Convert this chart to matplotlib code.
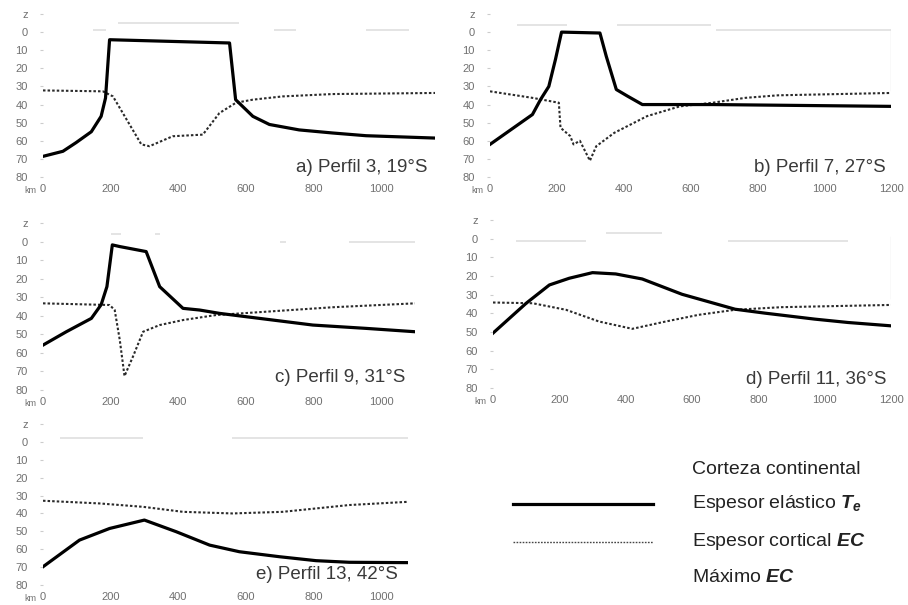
#!/usr/bin/env python3
"""
Perfiles de espesor elastico (Te) y espesor cortical (EC), Andes 19-42 S
Five small panels + a hand-drawn legend in the lower right corner.
"""
import matplotlib
matplotlib.use("Agg")
import matplotlib.pyplot as plt
from matplotlib.lines import Line2D

plt.rcParams["font.family"] = ["Liberation Sans", "DejaVu Sans"]
plt.rcParams["mathtext.fontset"] = "custom"
plt.rcParams["mathtext.bf"] = "Liberation Sans:bold:italic"
plt.rcParams["mathtext.rm"] = "Liberation Sans"

# ---- data (km along profile, depth in km) ----
a_te_x = [0, 59, 98, 143, 172, 185, 197, 552, 570, 621, 670, 758, 857, 956, 1160]
a_te_y = [68.6, 65.8, 61, 55, 46.5, 36.4, 4.2, 6, 37.3, 46.5, 51, 54, 55.7, 57.2, 58.5]
a_ec_x = [0, 177, 207, 291, 315, 384, 473, 522, 571, 621, 709, 857, 1160]
a_ec_y = [32.2, 32.7, 35.5, 62, 63, 57.5, 56.6, 44.7, 39, 37.3, 35.5, 34.2, 33.6]

b_te_x = [0, 127, 152, 176, 196, 214, 329, 348, 378, 412, 456, 666, 1200]
b_te_y = [62, 45.5, 37, 30, 15, 0, 0.5, 13.4, 31.7, 35.4, 40, 40, 41]
b_ec_x = [0, 127, 206, 211, 240, 250, 269, 299, 318, 372, 470, 568, 666, 764, 862, 1200]
b_ec_y = [32.7, 36.3, 39, 52.8, 57.4, 62, 60, 71, 63, 55.6, 46.4, 41, 39, 36.3, 34.9, 33.6]

c_te_x = [0, 69, 143, 172, 189, 205, 227, 305, 345, 414, 463, 522, 640, 798, 956, 1100]
c_te_y = [55.8, 48.6, 41.4, 34, 24.3, 1.8, 2.7, 5.4, 24.3, 36, 36.9, 38.7, 41.4, 45, 46.8, 48.6]
c_ec_x = [0, 197, 212, 227, 241, 266, 296, 345, 414, 512, 660, 857, 1100]
c_ec_y = [33.3, 34.2, 36.9, 53, 72.5, 62, 48.6, 45, 42.3, 39.6, 37.8, 35.4, 33.3]

d_te_x = [0, 100, 170, 230, 300, 370, 450, 570, 730, 820, 970, 1070, 1200]
d_te_y = [50.6, 34.6, 24.8, 21.2, 18.2, 18.9, 21.6, 29.8, 37.8, 39.9, 43.1, 44.9, 46.7]
d_ec_x = [0, 120, 220, 320, 420, 520, 620, 730, 870, 1200]
d_ec_y = [34.2, 34.6, 38.1, 44.4, 48.3, 44.4, 40.8, 38.1, 36.7, 35.5]

e_te_x = [0, 108, 197, 300, 394, 493, 581, 700, 808, 906, 1080]
e_te_y = [69.8, 54.9, 48.4, 43.7, 50.2, 57.7, 61.4, 64.2, 66.4, 67.3, 67.5]
e_ec_x = [0, 167, 296, 414, 561, 709, 808, 906, 1080]
e_ec_y = [32.9, 34.4, 36.3, 39.1, 40, 39.1, 37.2, 35.3, 33.5]

# faint "corteza continental" bars near the top of each panel (x0, x1, depth)
a_crust = [(222, 581, -5), (148, 187, -1), (685, 749, -1), (955, 1083, -1)]
b_crust = [(80, 230, -4), (380, 660, -4), (676, 1200, -1)]
c_crust = [(200, 230, -4), (330, 345, -4), (700, 720, 0), (906, 1100, 0)]
d_crust = [(70, 280, 1), (340, 510, -3), (710, 1070, 1)]
e_crust = [(49, 296, -2), (560, 1080, -2)]

labels = ["a) Perfil 3, 19°S", "b) Perfil 7, 27°S", "c) Perfil 9, 31°S",
          "d) Perfil 11, 36°S", "e) Perfil 13, 42°S"]
xmax = [1160, 1200, 1100, 1200, 1080]

W, H = 908, 605
# pixel boxes (left, right, top, bottom) where top = -10 km, bottom = 80 km
boxes = [(43, 435, 14, 177), (490, 891, 14, 177), (43, 415, 223, 390),
         (493, 891, 220, 388), (43, 408, 424, 585)]
label_pos = [(1139, 74.5), (1185, 75), (1071, 73), (1185, 75.5), (1050, 74.4)]

panels = [
    (a_te_x, a_te_y, a_ec_x, a_ec_y, a_crust),
    (b_te_x, b_te_y, b_ec_x, b_ec_y, b_crust),
    (c_te_x, c_te_y, c_ec_x, c_ec_y, c_crust),
    (d_te_x, d_te_y, d_ec_x, d_ec_y, d_crust),
    (e_te_x, e_te_y, e_ec_x, e_ec_y, e_crust),
]

GRAY_TXT = "#707070"
FAINT = "#e2e2e2"
dotted = (0, (1.2, 1.0))

fig = plt.figure(figsize=(W / 100, H / 100), dpi=100)

for i, (tex, tey, ecx, ecy, crust) in enumerate(panels):
    l, r, t, b = boxes[i]
    ax = fig.add_axes([l / W, 1 - b / H, (r - l) / W, (b - t) / H])
    for x0, x1, z in crust:
        ax.plot([x0, x1], [z, z], color=FAINT, lw=1.3, solid_capstyle="butt")
    if i in (1, 3):
        ax.plot([xmax[i], xmax[i]], [-1, 32], color=FAINT, lw=1.0)
    ax.plot(ecx, ecy, color="#2a2a2a", lw=1.5, ls=dotted)
    ax.plot(tex, tey, color="black", lw=2.3, solid_joinstyle="round")

    ax.set_xlim(0, xmax[i])
    ax.set_ylim(80, -10)
    ax.set_yticks(list(range(-10, 81, 10)))
    ax.set_yticklabels(["z"] + [str(v) for v in range(0, 81, 10)])
    ax.set_xticks(list(range(0, xmax[i] + 1, 200)))
    for s in ax.spines.values():
        s.set_visible(False)
    ax.tick_params(axis="y", length=2, pad=9, labelsize=8, colors=GRAY_TXT,
                   color="#cccccc")
    ax.tick_params(axis="x", length=0, pad=5, labelsize=8, colors=GRAY_TXT)
    ax.annotate("km", xy=(0, 0), xycoords="axes fraction", xytext=(-5, -10),
                textcoords="offset points", ha="right", va="center",
                fontsize=6.5, color=GRAY_TXT)
    lx, ly = label_pos[i]
    ax.text(lx, ly, labels[i], ha="right", va="center", fontsize=13.5,
            color="#3a3a3a")

# ---- legend ----
leg_items = [
    ("Corteza continental", None, 470),
    (r"Espesor elástico $\mathbf{T_e}$", "solid", 504),
    (r"Espesor cortical $\mathbf{EC}$", "dotted", 542),
    (r"Máximo $\mathbf{EC}$", None, 578),
]
for txt, style, ypx in leg_items:
    yf = 1 - ypx / H
    if style == "solid":
        fig.add_artist(Line2D([513 / W, 653 / W], [yf, yf], color="black", lw=2.3))
    elif style == "dotted":
        fig.add_artist(Line2D([513 / W, 653 / W], [yf, yf], color="#444444",
                              lw=1.0, ls=dotted))
    fig.text(692 / W, yf, txt, ha="left", va="center", fontsize=14,
             color="#222222")

fig.savefig("out.png", dpi=100, facecolor="white")
